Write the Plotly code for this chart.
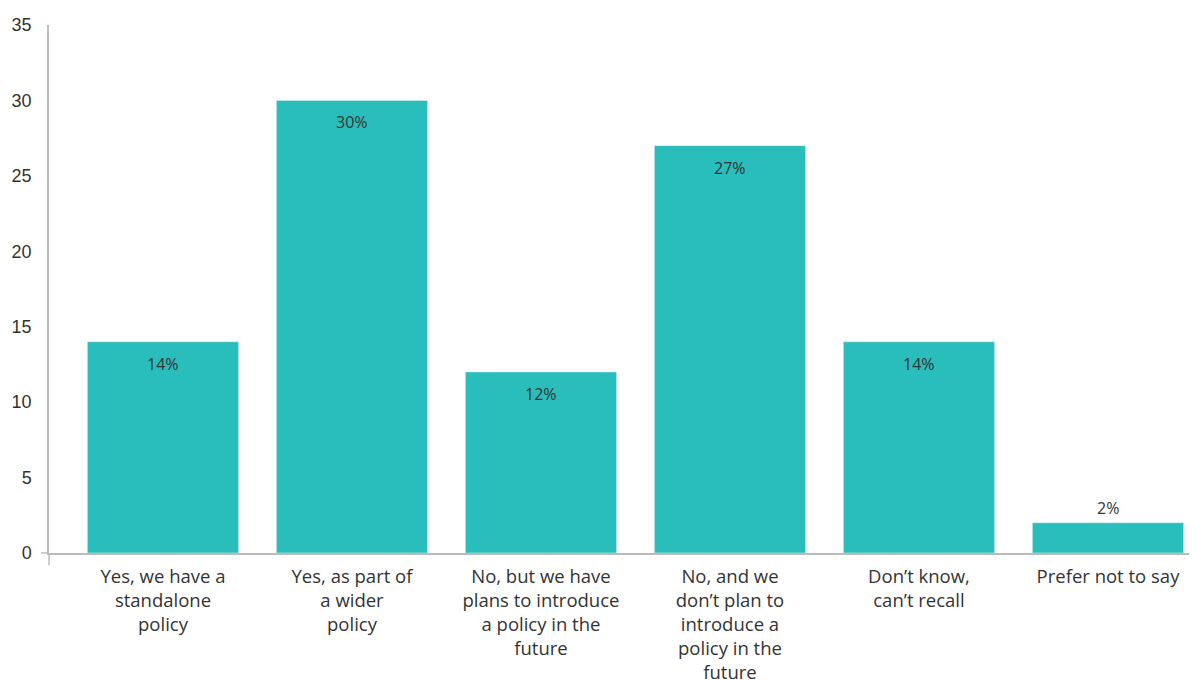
import plotly.graph_objects as go

categories = [
    "Yes, we have a<br>standalone<br>policy",
    "Yes, as part of<br>a wider<br>policy",
    "No, but we have<br>plans to introduce<br>a policy in the<br>future",
    "No, and we<br>don’t plan to<br>introduce a<br>policy in the<br>future",
    "Don’t know,<br>can’t recall",
    "Prefer not to say",
]
values = [14, 30, 12, 27, 14, 2]
y_ticks = [0, 5, 10, 15, 20, 25, 30, 35]

bar_color = "#29BDBB"
text_color = "#333333"
axis_color = "#BBBBBB"

fig = go.Figure(go.Bar(
    x=list(range(len(categories))),
    y=values,
    marker_color=bar_color,
    width=0.8,
    hoverinfo="skip",
))

annotations = []
for i, v in enumerate(values):
    small = v < 5
    annotations.append(dict(
        x=i, y=v, xref="x", yref="y",
        text=f"{v}%", showarrow=False,
        yanchor="bottom" if small else "top",
        yshift=2 if small else -9,
        font=dict(family="Open Sans, sans-serif", size=16, color=text_color),
    ))

# page body has an 8px default margin; compensate so the plot area matches
fig.update_layout(
    width=1189, height=672,
    margin=dict(l=41, r=0, t=17, b=127),
    paper_bgcolor="white", plot_bgcolor="white",
    showlegend=False,
    annotations=annotations,
    xaxis=dict(
        range=[-0.603, 5.471],
        tickmode="array",
        tickvals=list(range(len(categories))),
        ticktext=categories,
        tickangle=0,
        automargin=False,
        showgrid=False, zeroline=False,
        showline=True, linecolor=axis_color, linewidth=1.5,
        tickfont=dict(family="Open Sans, sans-serif", size=18.5, color=text_color),
        ticks="", ticklabelstandoff=6,
    ),
    yaxis=dict(
        range=[0, 35],
        tickmode="array",
        tickvals=y_ticks,
        automargin=False,
        showgrid=False, zeroline=False,
        showline=True, linecolor=axis_color, linewidth=1.5,
        ticks="", ticklabelstandoff=12,
        tickfont=dict(family="Liberation Sans, Arial, sans-serif", size=18, color=text_color),
    ),
    shapes=[
        dict(type="line", xref="paper", yref="paper", x0=0, x1=0, y0=0, y1=-0.023,
             line=dict(color=axis_color, width=1.5)),
        dict(type="line", xref="paper", yref="paper", x0=-0.007, x1=0, y0=0, y1=0,
             line=dict(color=axis_color, width=1.5)),
    ],
)

fig.write_html("out.html")
